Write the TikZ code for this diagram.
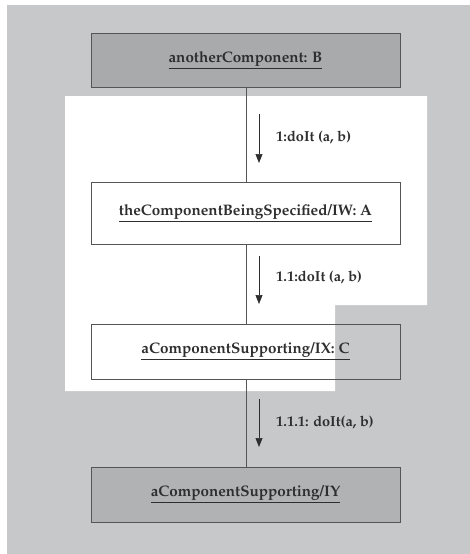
\documentclass[tikz,border=0pt]{standalone}
\usepackage[T1]{fontenc}
\usepackage{mathpazo}
\usetikzlibrary{arrows.meta}
\definecolor{pagegray}{HTML}{C6C8CA}
\definecolor{boxdark}{HTML}{A9AAAB}
\definecolor{boxmid}{HTML}{B1B2B3}
\definecolor{ink}{HTML}{2E2E2E}
\definecolor{edge}{HTML}{555555}
\tikzset{
  obj/.style={draw=edge, line width=0.8pt, minimum width=309pt, minimum height=#1,
    inner sep=0pt, text=ink, font=\fontsize{15.2}{18}\selectfont\bfseries},
  link/.style={draw=edge, line width=0.7pt},
  msg/.style={draw=ink, line width=0.7pt, -{Triangle[length=9pt,width=7pt]}},
  msglabel/.style={anchor=west, text=ink, inner sep=0pt, font=\fontsize{14.5}{17}\selectfont\bfseries}
}
\newcommand{\ul}[1]{\underline{#1}}
\begin{document}
\begin{tikzpicture}[x=1pt,y=-1pt]
  \useasboundingbox (0,0) rectangle (470,554);
  \fill[white] (0,0) rectangle (470,554);
  % page background and the white panel behind the upper part
  \fill[pagegray] (7,5) rectangle (470,554);
  \fill[white] (65,96) -- (427,96) -- (427,305) -- (335,305) -- (335,391) -- (65,391) -- cycle;

  % objects
  \node[obj=54pt, fill=boxdark] (B) at (245.5,60) {\ul{anotherComponent: B}};
  \node[obj=62pt, fill=white]   (A) at (245.5,213) {\ul{theComponentBeingSpecified/IW: A}};
  \node[obj=55pt, fill=none]    (C) at (245.5,351.5) {\ul{aComponentSupporting/IX: C}};
  \node[obj=55pt, fill=boxmid]  (Y) at (245.5,494.5) {\ul{aComponentSupporting/IY}};

  % links
  \draw[link] (B.south -| 246,0) -- (A.north -| 246,0);
  \draw[link] (A.south -| 246,0) -- (C.north -| 246,0);
  \draw[link] (C.south -| 246,0) -- (Y.north -| 246,0);

  % messages
  \coordinate (m1s) at (259,114); \coordinate (m1e) at (259,163);
  \coordinate (m2s) at (259,256); \coordinate (m2e) at (259,304);
  \coordinate (m3s) at (259,399); \coordinate (m3e) at (259,447);
  \draw[msg] (m1s) -- (m1e);
  \draw[msg] (m2s) -- (m2e);
  \draw[msg] (m3s) -- (m3e);
  \node[msglabel] (l1) at (276,137) {1:doIt (a, b)};
  \node[msglabel] (l2) at (276,277) {1.1:doIt (a, b)};
  \node[msglabel] (l3) at (276,422) {1.1.1: doIt(a, b)};
\end{tikzpicture}
\end{document}
